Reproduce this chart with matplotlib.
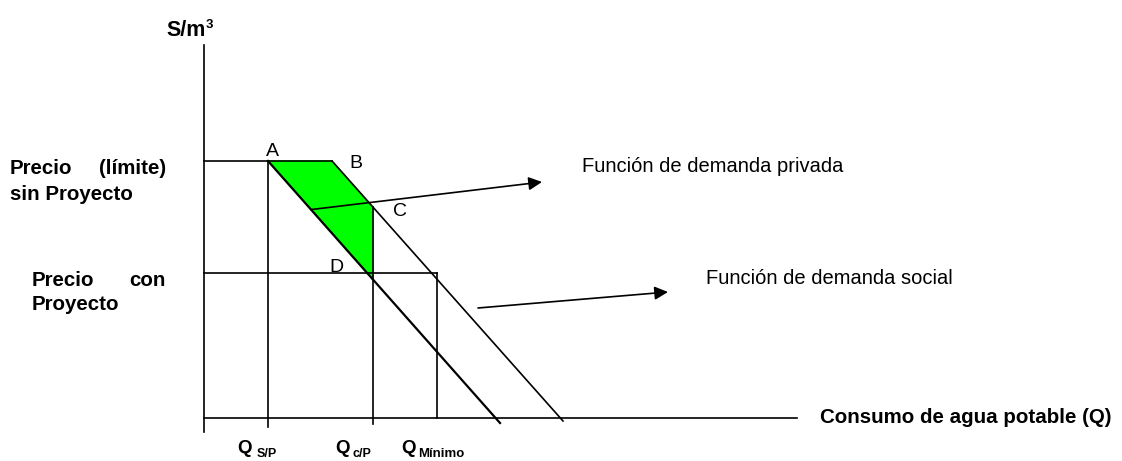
import numpy as np
import matplotlib.pyplot as plt

plt.rcParams['font.family'] = ['Liberation Sans', 'DejaVu Sans']

# cantidades (Q) y precios en unidades del dibujo
q_sp = 64       # Q sin proyecto
q_b = 128       # punto B
q_cp = 169      # Q con proyecto
q_min = 233     # Q minimo
precio_sin = 257
precio_con = 145

# funciones de demanda (extremos)
social_q = [64, 296]
social_p = [257, -5]
privada_q = [128, 359]
privada_p = [257, -3]

q_axis_end = 593
p_axis_top = 373


def demanda(q, qs, ps):
    m = (ps[1] - ps[0]) / (qs[1] - qs[0])
    return ps[0] + m * (q - qs[0])


fig = plt.figure(figsize=(11.22, 4.61), dpi=100)
ax = fig.add_axes([0, 0, 1, 1])
ax.set_xlim(-204, 918)
ax.set_ylim(-43, 418)
ax.axis('off')

lw = 1.2
k = 'black'

# ejes
ax.plot([0, 0], [-14, p_axis_top], color=k, lw=lw)
ax.plot([0, q_axis_end], [0, 0], color=k, lw=lw)

# area verde
p_c = demanda(q_cp, privada_q, privada_p)
p_d = demanda(q_cp, social_q, social_p)
poly_q = [q_sp, q_b, q_cp, q_cp]
poly_p = [precio_sin, precio_sin, p_c, p_d]
ax.fill(poly_q, poly_p, color='#00ff00', zorder=1)

# precios
ax.plot([0, q_b], [precio_sin, precio_sin], color=k, lw=lw)
ax.plot([0, q_min], [precio_con, precio_con], color=k, lw=lw)

# verticales
ax.plot([q_sp, q_sp], [-9, precio_sin], color=k, lw=lw)
ax.plot([q_cp, q_cp], [-6, p_c], color=k, lw=lw)
ax.plot([q_min, q_min], [0, precio_con], color=k, lw=lw)

# demandas
ax.plot(social_q, social_p, color=k, lw=1.6)
ax.plot(privada_q, privada_p, color=k, lw=lw)

# flechas
arrow = dict(arrowstyle='-|>', color=k, lw=lw, mutation_scale=20, shrinkA=0, shrinkB=0)
ax.annotate('', xy=(338, 236), xytext=(107, demanda(107, social_q, social_p)), arrowprops=arrow)
ax.annotate('', xy=(464, 126), xytext=(274, 110), arrowprops=arrow)

# letras
ax.text(68, 266, 'A', fontsize=14, ha='center', va='center')
ax.text(152, 255, 'B', fontsize=14, ha='center', va='center')
ax.text(196, 207, 'C', fontsize=14, ha='center', va='center')
ax.text(132, 151, 'D', fontsize=14, ha='center', va='center')

ax.text(378, 251, 'Función de demanda privada', fontsize=14.5, va='center')
ax.text(502, 139, 'Función de demanda social', fontsize=14.5, va='center')

bold = dict(fontsize=14.8, fontweight='bold', va='center')
ax.text(616, 1, 'Consumo de agua potable (Q)', **bold)
ax.text(-38, 382, 'S/m', fontsize=15.5, fontweight='bold', va='baseline')
ax.text(2, 390, '3', fontsize=9.5, fontweight='bold', va='baseline')

ax.text(-194, 250, 'Precio', **bold)
ax.text(-38, 250, '(límite)', ha='right', **bold)
ax.text(-194, 224, 'sin Proyecto', **bold)
ax.text(-172, 138, 'Precio', **bold)
ax.text(-38, 138, 'con', ha='right', **bold)
ax.text(-172, 113, 'Proyecto', **bold)

# etiquetas de Q
ax.text(q_sp - 31, -35, 'Q', fontsize=13.5, fontweight='bold', va='baseline')
ax.text(q_sp - 11, -39, 'S/P', fontsize=9, fontweight='bold', va='baseline')
ax.text(q_cp - 38, -35, 'Q', fontsize=13.5, fontweight='bold', va='baseline')
ax.text(q_cp - 20, -39, 'c/P', fontsize=9, fontweight='bold', va='baseline')
ax.text(q_min - 36, -35, 'Q', fontsize=13.5, fontweight='bold', va='baseline')
ax.text(q_min - 19, -39, 'Mínimo', fontsize=9.5, fontweight='bold', va='baseline')

fig.savefig('out.png', dpi=100)
